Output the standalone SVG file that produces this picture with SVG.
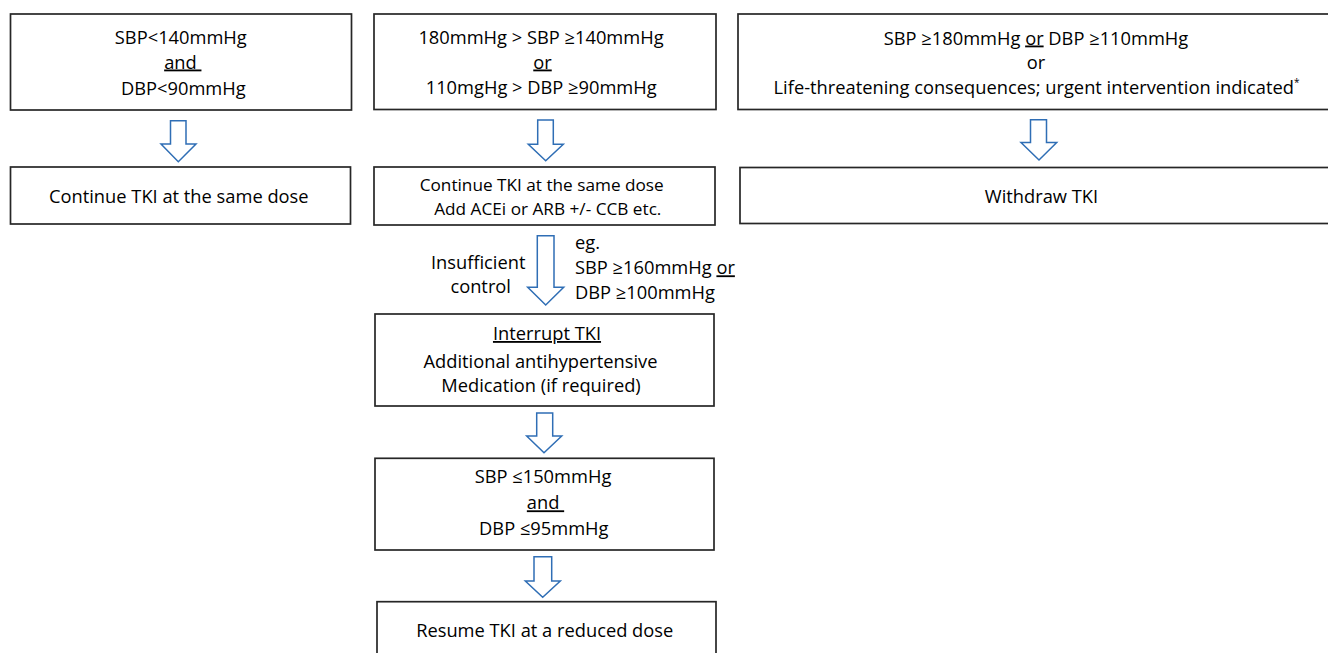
<svg xmlns="http://www.w3.org/2000/svg" width="1328" height="653" viewBox="0 0 1328 653">
<style>
.box{fill:#ffffff;stroke:#262626;stroke-width:1.7}
.arr{fill:#ffffff;stroke:#2f6eb5;stroke-width:1.5;stroke-linejoin:miter}
text{font-family:"Open Sans","Liberation Sans",sans-serif;font-size:18.3px;fill:#000000}
.c{text-anchor:middle}
.u{text-decoration:underline}
.t{font-size:17.2px}
</style>
<rect width="1328" height="653" fill="#ffffff"/>
<g id="connectors">
<path class="arr" d="M170.5,120.7 L186,120.7 L186,144 L196,144 L178.3,161.7 L161,144 L170.5,144 Z"/>
<path class="arr" d="M537.7,120 L553.3,120 L553.3,144.3 L563.3,144.3 L545.7,160.7 L528.3,144.3 L537.7,144.3 Z"/>
<path class="arr" d="M1030.5,119.7 L1046.5,119.7 L1046.5,142.5 L1056.7,142.5 L1039,160 L1021,142.5 L1030.5,142.5 Z"/>
<path class="arr" d="M537.3,235.7 L554,235.7 L554,287.3 L563.7,287.3 L545.7,305 L527.7,287.3 L537.3,287.3 Z"/>
<path class="arr" d="M536.7,413 L552.7,413 L552.7,436 L561.7,436 L544,452.7 L526.7,436 L536.7,436 Z"/>
<path class="arr" d="M534,556.7 L551.7,556.7 L551.7,581 L560.3,581 L542.7,597.3 L525.3,581 L534,581 Z"/>
<text x="478.2" y="269" class="c">Insufficient</text>
<text x="480.7" y="293.3" class="c">control</text>
<text x="575" y="248.5">eg.</text>
<text x="575" y="274.3" xml:space="preserve">SBP ≥160mmHg <tspan class="u">or</tspan></text>
<text x="575" y="299">DBP ≥100mmHg</text>
</g>
<g id="node-sbp-low">
<rect class="box" x="10.5" y="14" width="341" height="96"/>
<text x="180.8" y="43.5" class="c">SBP&lt;140mmHg</text>
<text x="182.8" y="68.5" class="c" xml:space="preserve"><tspan class="u">and </tspan></text>
<text x="183.3" y="94.5" class="c">DBP&lt;90mmHg</text>
</g>
<g id="node-sbp-mid">
<rect class="box" x="374" y="14" width="342" height="95.5"/>
<text x="541" y="44" class="c">180mmHg &gt; SBP ≥140mmHg</text>
<text x="542.5" y="68.5" class="c"><tspan class="u">or</tspan></text>
<text x="541.2" y="94.3" class="c">110mgHg &gt; DBP ≥90mmHg</text>
</g>
<g id="node-sbp-high">
<rect class="box" x="738" y="14" width="600" height="95.5"/>
<text x="1036" y="44.5" class="c" xml:space="preserve">SBP ≥180mmHg <tspan class="u">or</tspan> DBP ≥110mmHg</text>
<text x="1036" y="69" class="c">or</text>
<text x="1036.5" y="94.3" class="c">Life-threatening consequences; urgent intervention indicated<tspan font-size="10" dy="-8">*</tspan></text>
</g>
<g id="node-continue">
<rect class="box" x="10.5" y="167" width="340" height="57"/>
<text x="178.8" y="202.7" class="c">Continue TKI at the same dose</text>
</g>
<g id="node-continue-add">
<rect class="box" x="374" y="167" width="341" height="58"/>
<text x="541.7" y="190.5" class="c t">Continue TKI at the same dose</text>
<text x="547.8" y="215.3" class="c t">Add ACEi or ARB +/- CCB etc.</text>
</g>
<g id="node-withdraw">
<rect class="box" x="740" y="167.5" width="600" height="56"/>
<text x="1041.5" y="203" class="c">Withdraw TKI</text>
</g>
<g id="node-interrupt">
<rect class="box" x="375" y="314" width="339" height="92"/>
<text x="547" y="340" class="c"><tspan class="u">Interrupt TKI</tspan></text>
<text x="540.5" y="367.7" class="c">Additional antihypertensive</text>
<text x="541" y="391.7" class="c">Medication (if required)</text>
</g>
<g id="node-target">
<rect class="box" x="375" y="458.3" width="339" height="91.7"/>
<text x="543" y="483.3" class="c">SBP ≤150mmHg</text>
<text x="545.5" y="509.3" class="c" xml:space="preserve"><tspan class="u">and </tspan></text>
<text x="543.8" y="535" class="c">DBP ≤95mmHg</text>
</g>
<g id="node-resume">
<rect class="box" x="377" y="601.7" width="339" height="70"/>
<text x="544.7" y="637.3" class="c">Resume TKI at a reduced dose</text>
</g>
</svg>
